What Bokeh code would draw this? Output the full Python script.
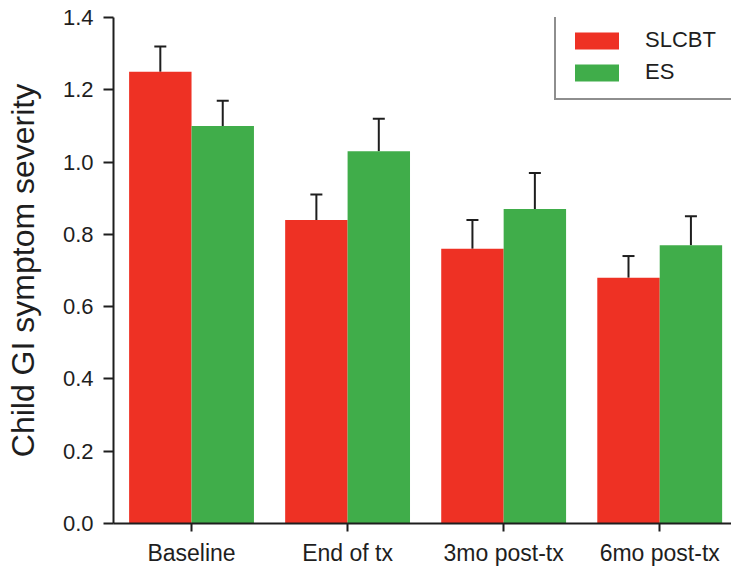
from bokeh.plotting import figure
from bokeh.models import (ColumnDataSource, Range1d, FixedTicker, Legend, LegendItem,
                          Whisker, TeeHead)
from bokeh.embed import file_html
from bokeh.resources import INLINE

categories = ["Baseline", "End of tx", "3mo post-tx", "6mo post-tx"]
slcbt_mean = [1.25, 0.84, 0.76, 0.68]
slcbt_upper = [1.32, 0.91, 0.84, 0.74]
es_mean = [1.10, 1.03, 0.87, 0.77]
es_upper = [1.17, 1.12, 0.97, 0.85]
y_ticks = [0.0, 0.2, 0.4, 0.6, 0.8, 1.0, 1.2, 1.4]

RED = "#EE3124"
GREEN = "#40AD4A"
INK = "#1E1E1E"
FONT = "Liberation Sans"

idx = list(range(len(categories)))
src_s = ColumnDataSource(dict(x=[i - 0.2 for i in idx], top=slcbt_mean, upper=slcbt_upper))
src_e = ColumnDataSource(dict(x=[i + 0.2 for i in idx], top=es_mean, upper=es_upper))

p = figure(width=731, height=571, output_backend="svg", toolbar_location=None,
           x_range=Range1d(-0.5, 3.46), y_range=Range1d(0, 1.4),
           min_border_left=113, min_border_right=0, min_border_top=17, min_border_bottom=48)
p.outline_line_color = None
p.xgrid.visible = False
p.ygrid.visible = False
p.background_fill_color = "white"

r_s = p.vbar(x="x", top="top", width=0.4, source=src_s, fill_color=RED, line_color=None)
r_e = p.vbar(x="x", top="top", width=0.4, source=src_e, fill_color=GREEN, line_color=None)

for src in (src_s, src_e):
    w = Whisker(base="x", lower="top", upper="upper", source=src,
                line_color=INK, line_width=2,
                upper_head=TeeHead(size=12, line_color=INK, line_width=2),
                lower_head=None)
    p.add_layout(w)

# axes
p.xaxis.ticker = FixedTicker(ticks=idx)
p.xaxis.major_label_overrides = {i: c for i, c in zip(idx, categories)}
p.yaxis.ticker = FixedTicker(ticks=y_ticks)
p.yaxis.major_label_overrides = {t: f"{t:.1f}" for t in y_ticks}
for ax in (p.xaxis, p.yaxis):
    ax.axis_line_color = INK
    ax.axis_line_width = 2
    ax.major_tick_line_color = INK
    ax.major_tick_line_width = 2
    ax.major_tick_in = 0
    ax.minor_tick_line_color = None
    ax.major_label_text_font = FONT
    ax.major_label_text_color = INK
p.xaxis.major_tick_out = 8
p.yaxis.major_tick_out = 10
p.xaxis.major_label_text_font_size = "23px"
p.yaxis.major_label_text_font_size = "22px"
p.xaxis.major_label_standoff = 8
p.yaxis.major_label_standoff = 10
p.yaxis.axis_label = "Child GI symptom severity"
p.yaxis.axis_label_text_font = FONT
p.yaxis.axis_label_text_font_size = "32px"
p.yaxis.axis_label_text_font_style = "normal"
p.yaxis.axis_label_text_color = INK
p.yaxis.axis_label_standoff = 19

legend = Legend(items=[LegendItem(label="SLCBT", renderers=[r_s]),
                       LegendItem(label="ES", renderers=[r_e])],
                location=(441, 423))
legend.glyph_width = 55
legend.glyph_height = 21
legend.label_height = 21
legend.label_width = 100
legend.label_standoff = 21
legend.spacing = 6
legend.padding = 13
legend.margin = 0
legend.label_text_font = FONT
legend.label_text_font_size = "22px"
legend.label_text_color = INK
legend.border_line_color = INK
legend.border_line_width = 2
legend.background_fill_color = "white"
legend.background_fill_alpha = 1
p.add_layout(legend)

open("out.html", "w").write(file_html(p, INLINE))
